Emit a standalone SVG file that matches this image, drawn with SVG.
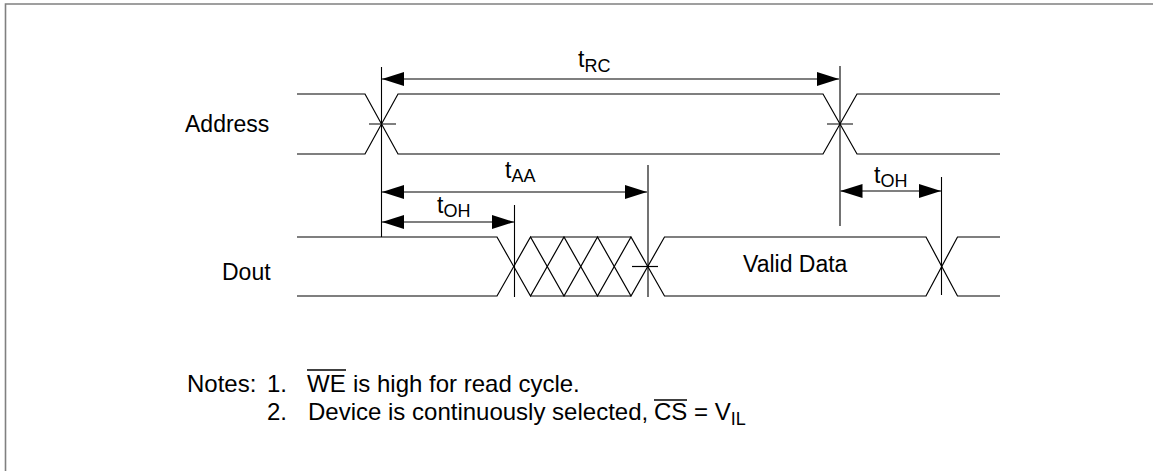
<svg xmlns="http://www.w3.org/2000/svg" width="1153" height="471" viewBox="0 0 1153 471">
  <style>
    .sig { fill: none; stroke: #000; stroke-width: 1.2; }
    .ref { fill: none; stroke: #000; stroke-width: 1.1; }
    .dim { fill: none; stroke: #000; stroke-width: 1.1; marker-start: url(#ah); marker-end: url(#ah); }
    .txt { font-family: "Liberation Sans", Arial, sans-serif; font-size: 23px; fill: #000; }
    .note { font-size: 24px; }
    .sub { font-size: 18px; }
    .ovl { stroke: #000; stroke-width: 1.4; }
  </style>
  <defs>
    <marker id="ah" viewBox="0 0 22 14" refX="22" refY="7" markerWidth="22" markerHeight="14" markerUnits="userSpaceOnUse" orient="auto-start-reverse">
      <path d="M0,0 L22,7 L0,14 z" fill="#000"/>
    </marker>
  </defs>
  <rect width="1153" height="471" fill="#fff"/>
  <path d="M5.5,471 V4 H1153" fill="none" stroke="#808080" stroke-width="1.6"/>

  <g id="address">
    <text class="txt" x="185" y="132">Address</text>
    <path class="sig" d="M297,94 H365 L398,154 H823 L857,94 H1000 M297,154 H365 L398,94 H823 L857,154 H1000"/>
    <path class="sig" d="M369,124 H396 M827,124 H853"/>
  </g>

  <g id="dout">
    <text class="txt" x="222" y="280">Dout</text>
    <path class="sig" d="M297,237 H497 L530.5,296 L564,237 L597.5,296 L631,237 L664.5,296 H926 L957.5,237 H1000"/>
    <path class="sig" d="M297,296 H497 L530.5,237 L564,296 L597.5,237 L631,296 L664.5,237 H926 L957.5,296 H1000"/>
    <path class="sig" d="M530.5,237 H631 M530.5,296 H631"/>
    <path class="sig" d="M632,266.5 H658"/>
    <text class="txt" x="743" y="272">Valid Data</text>
  </g>

  <g id="connectors">
    <path class="ref" d="M381.5,67 V237 M840,66 V226 M514.5,205 V297 M648,165 V297 M941.5,177 V295"/>
    <line class="dim" x1="382" y1="79" x2="839" y2="79"/>
    <line class="dim" x1="382" y1="192" x2="647" y2="192"/>
    <line class="dim" x1="382" y1="222" x2="514" y2="222"/>
    <line class="dim" x1="840.5" y1="191" x2="941" y2="191"/>
  </g>

  <g id="labels">
    <text class="txt" x="578" y="67">t<tspan class="sub" dy="5">RC</tspan></text>
    <text class="txt" x="505" y="178">t<tspan class="sub" dy="4">AA</tspan></text>
    <text class="txt" x="437" y="213">t<tspan class="sub" dy="4">OH</tspan></text>
    <text class="txt" x="874" y="183">t<tspan class="sub" dy="4">OH</tspan></text>
  </g>

  <g id="notes">
    <text class="txt note" x="187" y="392">Notes:</text>
    <text class="txt note" x="267" y="392">1.</text>
    <text class="txt note" x="307" y="392">WE</text>
    <text class="txt note" x="353" y="392">is high for read cycle.</text>
    <line class="ovl" x1="307" y1="370" x2="346" y2="370"/>
    <text class="txt note" x="267" y="420">2.</text>
    <text class="txt note" x="308" y="420">Device is continuously selected,</text>
    <text class="txt note" x="654" y="420">CS = V<tspan class="sub" dy="5">IL</tspan></text>
    <line class="ovl" x1="654" y1="400" x2="687" y2="400"/>
  </g>
</svg>
